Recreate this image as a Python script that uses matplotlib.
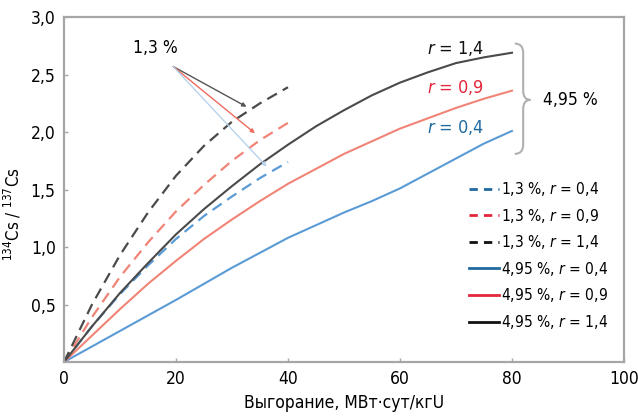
import matplotlib
matplotlib.use("Agg")
import matplotlib.pyplot as plt
from matplotlib.lines import Line2D
from matplotlib.path import Path
from matplotlib.patches import PathPatch

plt.rcParams['font.family'] = ['DejaVu Sans']
plt.rcParams['font.stretch'] = 'condensed'
plt.rcParams['mathtext.fontset'] = 'dejavusans'

# burnup, MW*day/kgU
x_low = [0, 5, 10, 15, 20, 25, 30, 35, 40]
x_high = [0, 5, 10, 15, 20, 25, 30, 35, 40, 45, 50, 55, 60, 65, 70, 75, 80]

# 1.3 % enrichment (dashed)
low_r04 = [0, 0.31, 0.59, 0.84, 1.07, 1.27, 1.44, 1.60, 1.74]
low_r09 = [0, 0.39, 0.74, 1.04, 1.31, 1.54, 1.75, 1.93, 2.08]
low_r14 = [0, 0.50, 0.93, 1.30, 1.62, 1.88, 2.09, 2.25, 2.39]

# 4.95 % enrichment (solid)
high_r04 = [0, 0.135, 0.27, 0.405, 0.54, 0.68, 0.82, 0.95, 1.08, 1.19, 1.30,
            1.40, 1.51, 1.64, 1.77, 1.90, 2.01]
high_r09 = [0, 0.23, 0.46, 0.68, 0.88, 1.07, 1.24, 1.40, 1.55, 1.68, 1.81,
            1.92, 2.03, 2.12, 2.21, 2.29, 2.36]
high_r14 = [0, 0.31, 0.60, 0.86, 1.11, 1.33, 1.53, 1.72, 1.89, 2.05, 2.19,
            2.32, 2.43, 2.52, 2.60, 2.65, 2.69]

legend_labels = ["1,3 %, $r$ = 0,4", "1,3 %, $r$ = 0,9", "1,3 %, $r$ = 1,4",
                 "4,95 %, $r$ = 0,4", "4,95 %, $r$ = 0,9", "4,95 %, $r$ = 1,4"]

blue, red, black = "#5b9bd5", "#f08476", "#4a4a4a"
blue_dk, red_dk, black_dk = "#1f6aa0", "#e3263a", "#111111"
gray = "#a6a6a6"

fig = plt.figure(figsize=(6.38, 4.17), dpi=100)
ax = fig.add_axes([0.1003, 0.1319, 0.8777, 0.8271])

dash = (0, (5, 3))
ax.plot(x_low, low_r04, color=blue, lw=1.6, linestyle=dash)
ax.plot(x_low, low_r09, color=red, lw=1.6, linestyle=dash)
ax.plot(x_low, low_r14, color=black, lw=1.6, linestyle=dash)
ax.plot(x_high, high_r04, color=blue, lw=1.5)
ax.plot(x_high, high_r09, color=red, lw=1.5)
ax.plot(x_high, high_r14, color=black, lw=1.5)

ax.set_xlim(0, 100)
ax.set_ylim(0, 3.0)
ax.set_xticks([0, 20, 40, 60, 80, 100])
ax.set_xticklabels(["0", "20", "40", "60", "80", "100"])
ax.set_yticks([0.5, 1.0, 1.5, 2.0, 2.5, 3.0])
ax.set_yticklabels(["0,5", "1,0", "1,5", "2,0", "2,5", "3,0"])
ax.tick_params(direction='in', length=3, width=1, color=gray, labelsize=12.5, pad=6)
for s in ax.spines.values():
    s.set_color(gray)
    s.set_linewidth(1.6)

ax.set_xlabel("Выгорание, МВт·сут/кгU", fontsize=12.5, labelpad=4)
ax.set_ylabel("$^{134}$Cs / $^{137}$Cs", fontsize=12)
ax.yaxis.set_label_coords(-0.072, 0.43)

# annotation for 1.3 %
ax.text(16.3, 2.73, "1,3 %", fontsize=12.5, ha='center', va='center')
origin = (19.5, 2.57)
for tgt, col in [((32.6, 2.22), "#555555"), ((34.1, 1.99), "#f06a5e"), ((36.2, 1.70), "#b7d3ec")]:
    ax.annotate("", xy=tgt, xytext=origin,
                arrowprops=dict(arrowstyle='-|>', color=col, lw=1.0,
                                mutation_scale=6, shrinkA=0, shrinkB=0))

# r labels
ax.text(70, 2.73, "$r$ = 1,4", fontsize=13, color=black_dk, ha='center', va='center')
ax.text(70, 2.39, "$r$ = 0,9", fontsize=13, color=red_dk, ha='center', va='center')
ax.text(70, 2.04, "$r$ = 0,4", fontsize=13, color=blue_dk, ha='center', va='center')

# brace for 4.95 %
x0, x1, x2 = 80.5, 82.0, 83.3
yt, ym, yb = 2.77, 2.28, 1.81
verts = [(x0, yt), (x1, yt), (x1, yt - 0.08),
         (x1, ym + 0.08),
         (x1, ym), (x2, ym),
         (x1, ym), (x1, ym - 0.08),
         (x1, yb + 0.08),
         (x1, yb), (x0, yb)]
codes = [Path.MOVETO, Path.CURVE3, Path.CURVE3,
         Path.LINETO,
         Path.CURVE3, Path.CURVE3,
         Path.CURVE3, Path.CURVE3,
         Path.LINETO,
         Path.CURVE3, Path.CURVE3]
ax.add_patch(PathPatch(Path(verts, codes), fill=False, edgecolor="#b0b0b0", lw=1.5,
                       clip_on=False))
ax.text(85.6, 2.28, "4,95 %", fontsize=12.5, ha='left', va='center')

handles = [Line2D([], [], color=blue_dk, lw=2, linestyle=(0, (3, 2.2))),
           Line2D([], [], color=red_dk, lw=2, linestyle=(0, (3, 2.2))),
           Line2D([], [], color=black_dk, lw=2, linestyle=(0, (3, 2.2))),
           Line2D([], [], color=blue_dk, lw=2),
           Line2D([], [], color=red_dk, lw=2),
           Line2D([], [], color=black_dk, lw=2)]
ax.legend(handles, legend_labels, loc='upper left', bbox_to_anchor=(0.724, 0.527),
          frameon=False, fontsize=11.2, handlelength=1.9, handletextpad=0.15,
          labelspacing=0.55, borderpad=0, borderaxespad=0)

fig.savefig("out.png", dpi=100)
